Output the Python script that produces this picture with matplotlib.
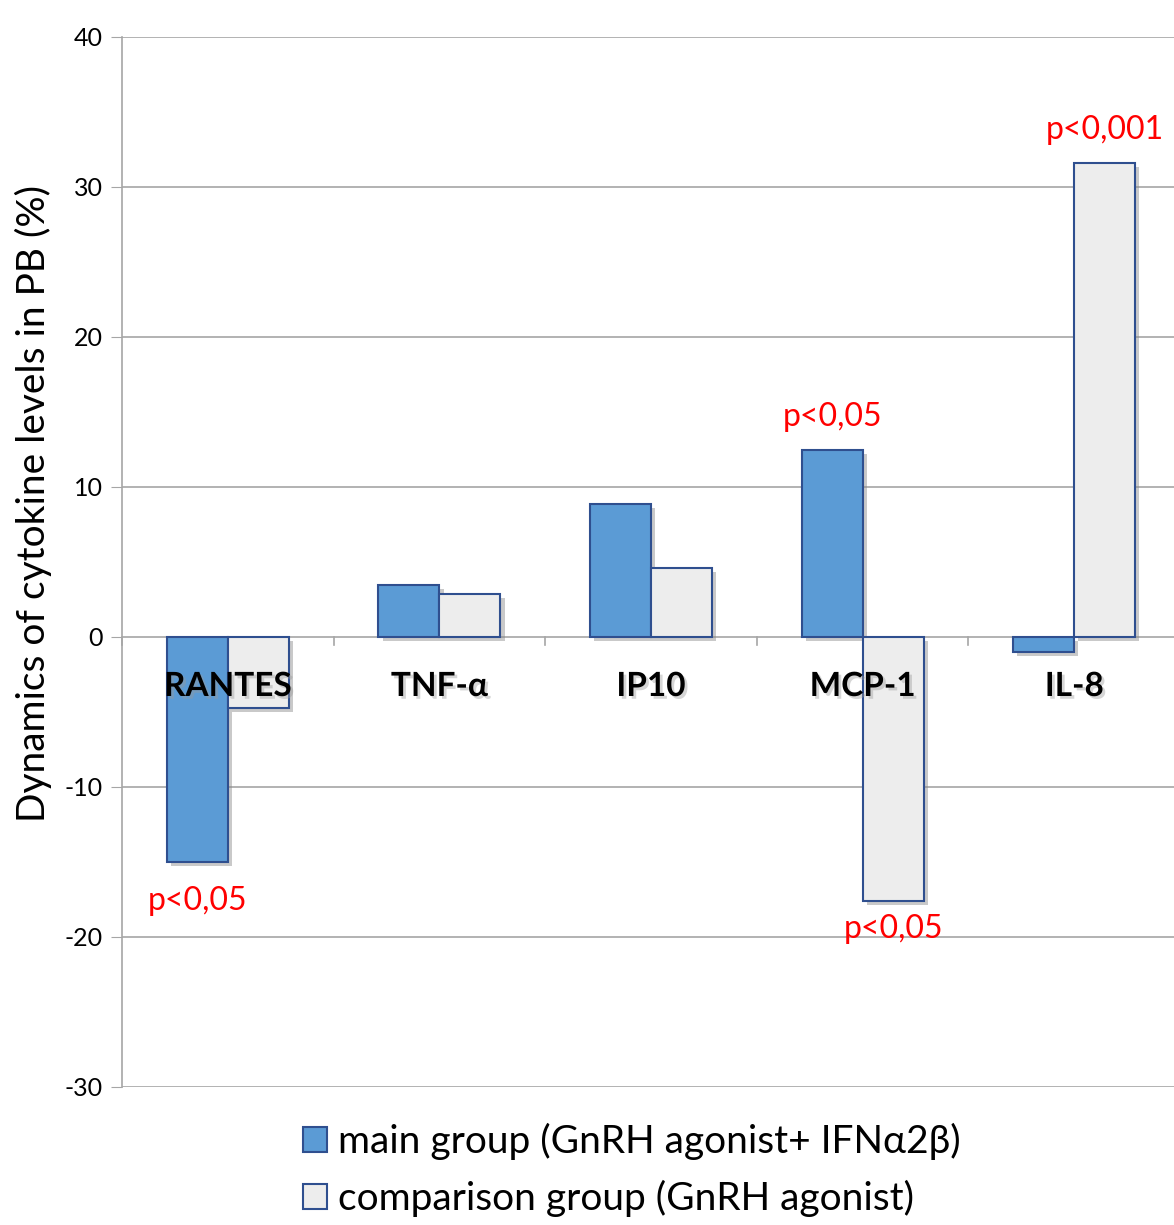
import matplotlib
matplotlib.use("Agg")
import matplotlib.pyplot as plt
import matplotlib.patheffects as pe
import numpy as np
from matplotlib.patches import Patch

categories = ["RANTES", "TNF-α", "IP10", "MCP-1", "IL-8"]
main_vals = [-15.0, 3.5, 8.9, 12.5, -1.0]
comp_vals = [-4.7, 2.9, 4.6, -17.6, 31.6]
series_names = ["main group (GnRH agonist+ IFNα2β)", "comparison group (GnRH agonist)"]
yticks = [-30, -20, -10, 0, 10, 20, 30, 40]
# p-value annotations: (category index, series index, text, y position)
pvals = [(0, 0, "p<0,05", -17.6), (3, 0, "p<0,05", 14.7), (3, 1, "p<0,05", -19.5), (4, 1, "p<0,001", 33.8)]

plt.rcParams['font.family'] = ['Lato', 'DejaVu Sans']

fig = plt.figure(figsize=(11.74, 12.25), dpi=100)
ax = fig.add_axes([122/1174, 1 - 1087/1225, 1058/1174, 1050/1225])

x = np.arange(len(categories))
w = 0.288
shadow = [pe.SimplePatchShadow(offset=(3, -3), shadow_rgbFace='#888888', alpha=0.45), pe.Normal()]
b1 = ax.bar(x - w/2, main_vals, w, color='#5B9BD5', edgecolor='#2F4F8F', linewidth=1.5, zorder=3)
b2 = ax.bar(x + w/2, comp_vals, w, color='#EDEDED', edgecolor='#2F4F8F', linewidth=1.5, zorder=3)
for b in list(b1) + list(b2):
    b.set_path_effects(shadow)

ax.set_xlim(-0.5, 4.5)
ax.set_ylim(-30, 40)
ax.set_yticks(yticks)
ax.set_yticklabels([str(t) for t in yticks], fontsize=18)
ax.yaxis.grid(True, color='#A6A6A6', linewidth=1.2, zorder=0)
ax.set_axisbelow(True)
ax.tick_params(axis='y', length=8, color='#A6A6A6', pad=6)
ax.set_xticks([])
for s in ['top', 'right', 'bottom']:
    ax.spines[s].set_visible(False)
ax.spines['left'].set_color('#A6A6A6')
ax.spines['left'].set_linewidth(1.2)

# zero-line category ticks
for i in range(len(categories) + 1):
    ax.plot([i - 0.5, i - 0.5], [0, -0.55], color='#A6A6A6', lw=1.2, zorder=2, clip_on=False)

for i, c in enumerate(categories):
    ax.text(i, -3.3, c, ha='center', va='center', fontsize=24, fontweight='bold', zorder=5,
            path_effects=[pe.withSimplePatchShadow(offset=(2, -2), shadow_rgbFace='#999999', alpha=0.4)])

for ci, si, t, yv in pvals:
    xo = x[ci] + (-w/2 if si == 0 else w/2)
    ax.text(xo, yv, t, ha='center', va='center', fontsize=23, color='red', zorder=6)

ax.set_ylabel("Dynamics of cytokine levels in PB (%)", fontsize=28)
ax.yaxis.set_label_coords(-70/1058, 0.556)

handles = [Patch(facecolor='#5B9BD5', edgecolor='#2F4F8F', linewidth=1.5),
           Patch(facecolor='#EDEDED', edgecolor='#2F4F8F', linewidth=1.5)]
fig.legend(handles, series_names, loc='upper left', bbox_to_anchor=(276/1174, 1 - 1096/1225),
           frameon=False, fontsize=28, handlelength=0.6, handleheight=0.6, handletextpad=0.3,
           labelspacing=0.5, borderpad=0.2)

fig.savefig("out.png", dpi=100)
